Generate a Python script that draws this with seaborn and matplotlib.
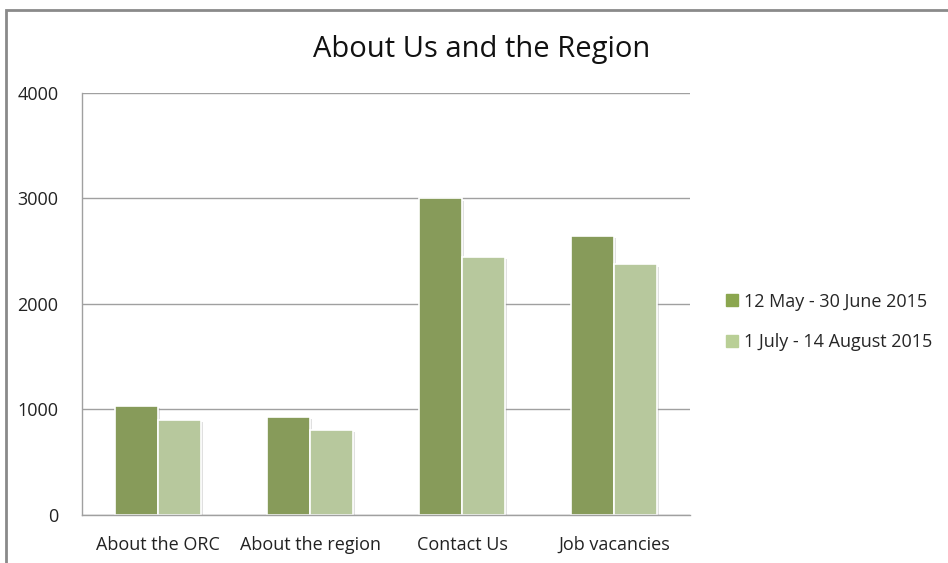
import pandas as pd
import matplotlib.pyplot as plt
import matplotlib.patheffects as pe
from matplotlib.patches import Rectangle
import seaborn as sns

categories = ['About the ORC', 'About the region', 'Contact Us', 'Job vacancies']
periods = ['12 May - 30 June 2015', '1 July - 14 August 2015']
visits_may_june = [1030, 925, 3000, 2645]
visits_july_aug = [905, 810, 2445, 2375]
yticks = [0, 1000, 2000, 3000, 4000]
colors = ['#8BA64F', '#B9CF96']

df = pd.DataFrame({
    'page': categories * 2,
    'period': [periods[0]] * 4 + [periods[1]] * 4,
    'visits': visits_may_june + visits_july_aug,
})

sns.set_style('white')
plt.rcParams['font.family'] = ['Open Sans', 'DejaVu Sans']

fig = plt.figure(figsize=(9.48, 5.63), dpi=100)
ax = fig.add_axes([0.0865, 0.0853, 0.6414, 0.7495])

sns.barplot(data=df, x='page', y='visits', hue='period', palette=colors,
            width=0.56, edgecolor='white', linewidth=1.2, ax=ax, legend=False)

shadow = [pe.SimplePatchShadow(offset=(1.5, -1.5), shadow_rgbFace='#999999', alpha=0.3),
          pe.Normal()]
for bar in ax.patches:
    bar.set_path_effects(shadow)

ax.set_ylim(0, 4000)
ax.set_xlim(-0.5, 3.5)
ax.set_yticks(yticks)
ax.yaxis.grid(True, color='#A0A0A0', linewidth=1)
ax.set_axisbelow(True)
ax.set_xlabel('')
ax.set_ylabel('')
ax.tick_params(axis='both', length=0, labelsize=13, colors='#222222')
ax.tick_params(axis='y', pad=17)
ax.tick_params(axis='x', pad=15)
for side in ['top', 'right']:
    ax.spines[side].set_visible(False)
for side in ['left', 'bottom']:
    ax.spines[side].set_color('#A0A0A0')
    ax.spines[side].set_linewidth(1)

fig.text(0.508, 0.912, 'About Us and the Region', ha='center', va='center',
         fontsize=21, color='#111111')

handles = [plt.Line2D([], [], marker='s', linestyle='', markersize=9,
                      markerfacecolor=c, markeredgecolor=c) for c in colors]
fig.legend(handles, periods, loc='center left', bbox_to_anchor=(0.745, 0.428),
           frameon=False, fontsize=13, handletextpad=0.2, labelspacing=1.25,
           handlelength=1.0)

fig.patches.append(Rectangle((6 / 948, -0.05), 1.1, 1.05 - 10 / 563, fill=False,
                             edgecolor='#8A8A8A', linewidth=2,
                             transform=fig.transFigure, figure=fig))

fig.savefig('out.png', dpi=100)
